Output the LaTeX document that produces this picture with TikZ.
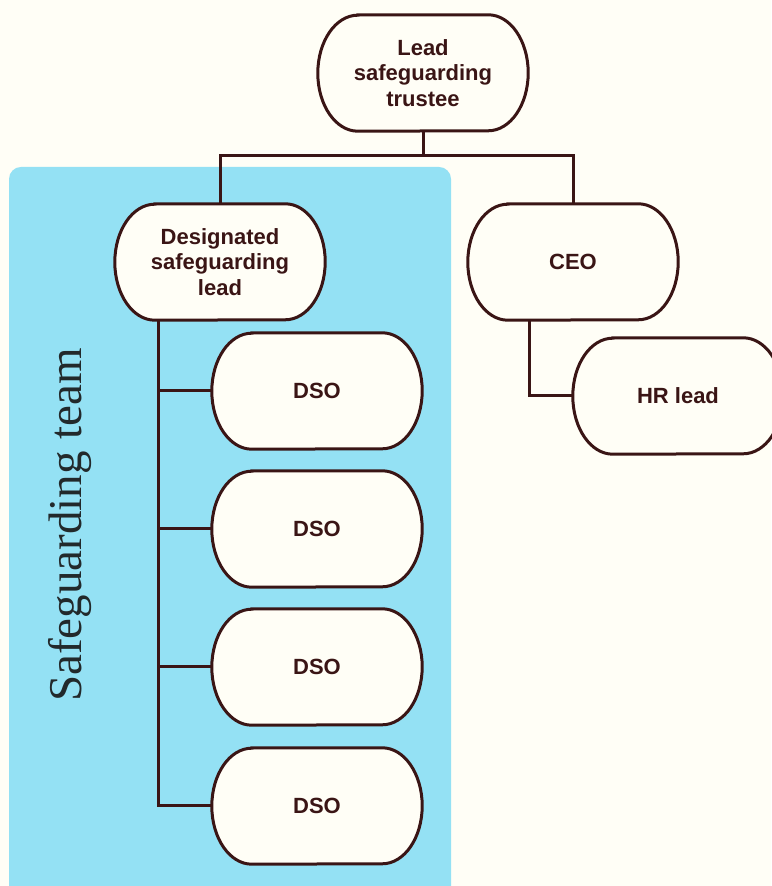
\documentclass[tikz,border=0pt]{standalone}
\usepackage{fontspec}
\usetikzlibrary{calc}
\newfontfamily\nodefont{Liberation Sans}
\newfontfamily\teamfont{Liberation Serif}
\definecolor{cream}{HTML}{FFFEF6}
\definecolor{panelblue}{HTML}{94E1F4}
\definecolor{ink}{HTML}{3A1515}
\definecolor{teamink}{HTML}{22292B}
\pgfdeclarelayer{bg}
\pgfsetlayers{bg,main}
\tikzset{
  box/.style={shape=rectangle, minimum width=210pt, minimum height=116pt, inner sep=0pt,
    align=center, text=ink, font=\nodefont\bfseries\fontsize{22}{25.5}\selectfont},
  capsule/.style={draw=ink, fill=cream, line width=3pt},
  link/.style={draw=ink, line width=3pt},
}
\begin{document}
\begin{tikzpicture}[x=1pt,y=1pt]
\useasboundingbox (0,0) rectangle (771,886);
\begin{pgfonlayer}{bg}
\fill[cream] (0,0) rectangle (771,886);
\fill[panelblue, rounded corners=12pt] (9,719) rectangle (451,-20);
\end{pgfonlayer}
\node[rotate=90, text=teamink, font=\teamfont\fontsize{47}{50}\selectfont] (team) at (70,361) {Safeguarding team};

\node[box] (lst) at (423,813) {Lead\\safeguarding\\trustee};
\node[box] (dsl) at (220,624) {Designated\\safeguarding\\lead};
\node[box] (ceo) at (573,624) {CEO};
\node[box] (hr) at (678,490) {HR lead};
\node[box] (d1) at (317,495) {DSO};
\node[box] (d2) at (317,357) {DSO};
\node[box] (d3) at (317,219) {DSO};
\node[box] (d4) at (317,80) {DSO};

\begin{pgfonlayer}{bg}
\foreach \n in {lst,dsl,ceo,hr,d1,d2,d3,d4}{
  \draw[capsule] ($(\n.north west)+(40,0)$) -- ($(\n.north east)+(-40,0)$)
    arc[start angle=90, end angle=-90, x radius=40pt, y radius=58pt]
    -- ($(\n.south west)+(40,0)$)
    arc[start angle=270, end angle=90, x radius=40pt, y radius=58pt] -- cycle;
}
\end{pgfonlayer}

\coordinate (split) at ($(lst.south)+(0,-24)$);
\draw[link] (lst.south) -- (split) -| (dsl.north);
\draw[link] (split) -| (ceo.north);
\coordinate (trunk) at ($(dsl.south)+(-62,0)$);
\draw[link] (trunk) |- (d4.west);
\draw[link] (trunk |- d1.west) -- (d1.west);
\draw[link] (trunk |- d2.west) -- (d2.west);
\draw[link] (trunk |- d3.west) -- (d3.west);
\coordinate (ceodown) at ($(ceo.south)+(-44,0)$);
\draw[link] (ceodown) |- (hr.west);
\end{tikzpicture}
\end{document}
